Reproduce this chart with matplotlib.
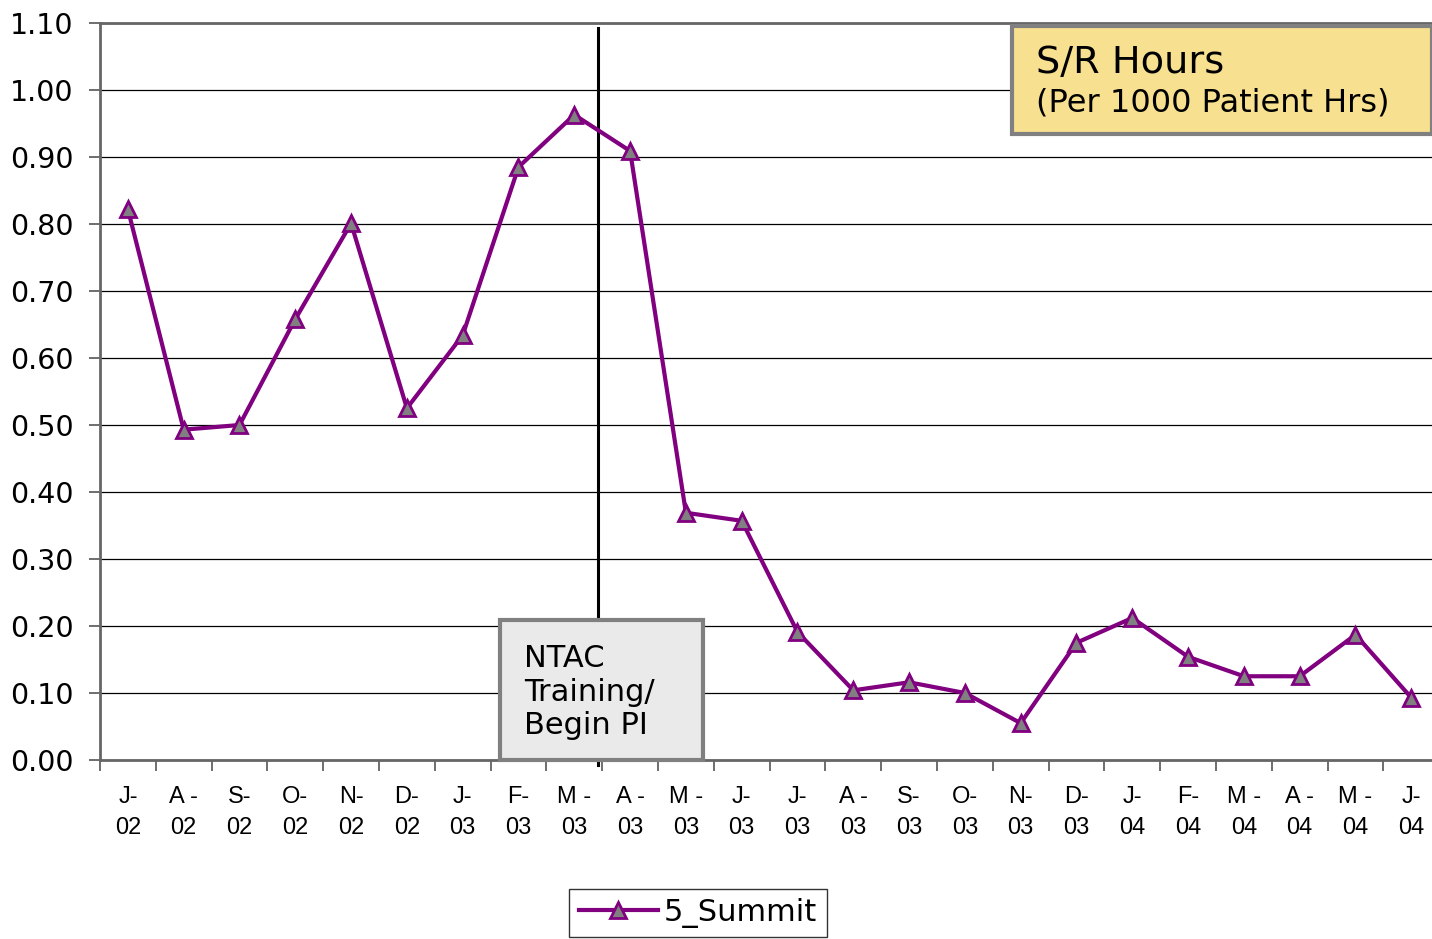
import matplotlib.pyplot as plt
from matplotlib.patches import Rectangle

months = ['J-\n02', 'A -\n02', 'S-\n02', 'O-\n02', 'N-\n02', 'D-\n02', 'J-\n03', 'F-\n03',
          'M -\n03', 'A -\n03', 'M -\n03', 'J-\n03', 'J-\n03', 'A -\n03', 'S-\n03', 'O-\n03',
          'N-\n03', 'D-\n03', 'J-\n04', 'F-\n04', 'M -\n04', 'A -\n04', 'M -\n04', 'J-\n04']
summit = [0.822, 0.493, 0.500, 0.658, 0.801, 0.525, 0.634, 0.885, 0.963, 0.909, 0.369, 0.357,
          0.191, 0.104, 0.116, 0.100, 0.055, 0.175, 0.212, 0.154, 0.125, 0.125, 0.187, 0.093]
y_ticks = [0.0, 0.1, 0.2, 0.3, 0.4, 0.5, 0.6, 0.7, 0.8, 0.9, 1.0, 1.1]
event_x = 8.42  # NTAC training start, between M-03 and A-03

W, H = 1432, 939
fig = plt.figure(figsize=(W / 100, H / 100), dpi=100)
ax = fig.add_axes([100 / W, (H - 760) / H, 24 * 55.8 / W, 737 / H])

xs = list(range(len(summit)))
ax.plot(xs, summit, color='#800080', lw=3, marker='^', markersize=11,
        markerfacecolor='#808080', markeredgecolor='#800080', markeredgewidth=2,
        label='5_Summit', zorder=4)

ax.set_xlim(-0.5, len(summit) - 0.5)
ax.set_ylim(0, 1.1)
ax.set_yticks(y_ticks)
ax.set_yticklabels([f'{v:.2f}' for v in y_ticks], fontsize=20.5, family='DejaVu Sans')
ax.set_xticks([i - 0.5 for i in range(len(summit) + 1)])
ax.set_xticklabels([])
ax.set_xticks(xs, minor=True)
ax.set_xticklabels(months, minor=True)
ax.tick_params(axis='x', which='major', length=8, width=1.2, color='#555555', direction='out')
ax.tick_params(axis='x', which='minor', length=0, pad=19, labelsize=17,
               labelfontfamily='Liberation Sans')
ax.tick_params(axis='y', length=8, width=1.2, color='#555555', direction='out', pad=11)
for lab in ax.get_xticklabels(minor=True):
    lab.set_linespacing(1.5)

ax.grid(axis='y', color='black', lw=0.9)
ax.set_axisbelow(True)
ax.spines['right'].set_visible(False)
for s in ['left', 'bottom', 'top']:
    ax.spines[s].set_color('#666666')
    ax.spines[s].set_linewidth(2)

# event marker
ax.plot([event_x, event_x], [-0.008, 1.093], color='black', lw=2.2, clip_on=False, zorder=3)
x0 = (500 - 100) / 55.8 - 0.5
x1 = (703 - 100) / 55.8 - 0.5
ax.add_patch(Rectangle((x0, 0.0), x1 - x0, 0.209, facecolor='#EAEAEA', edgecolor='#808080',
                       lw=3, zorder=5, clip_on=False))
ax.text((524 - 100) / 55.8 - 0.5, 0.101, 'NTAC\nTraining/\nBegin PI', fontsize=22,
        family='DejaVu Sans', va='center', ha='left', linespacing=1.2, zorder=6)

# title box
fig.patches.append(Rectangle((1012 / W, (H - 134) / H), (W - 1012) / W, 108 / H,
                             transform=fig.transFigure, facecolor='#F7E08F',
                             edgecolor='#808080', lw=3, zorder=5))
fig.text(1036 / W, (H - 63) / H, 'S/R Hours', fontsize=27.5, family='DejaVu Sans',
         va='center', ha='left', zorder=6)
fig.text(1036 / W, (H - 103) / H, '(Per 1000 Patient Hrs)', fontsize=23, family='DejaVu Sans',
         va='center', ha='left', zorder=6)

leg = fig.legend(loc='upper center', bbox_to_anchor=(698 / W, (H - 889) / H),
                 prop={'family': 'DejaVu Sans', 'size': 22}, frameon=True, fancybox=False,
                 handlelength=2.6, borderpad=0.3, handletextpad=0.2, borderaxespad=0)
leg.get_frame().set_edgecolor('black')
leg.get_frame().set_linewidth(1)

fig.savefig('out.png', dpi=100)
